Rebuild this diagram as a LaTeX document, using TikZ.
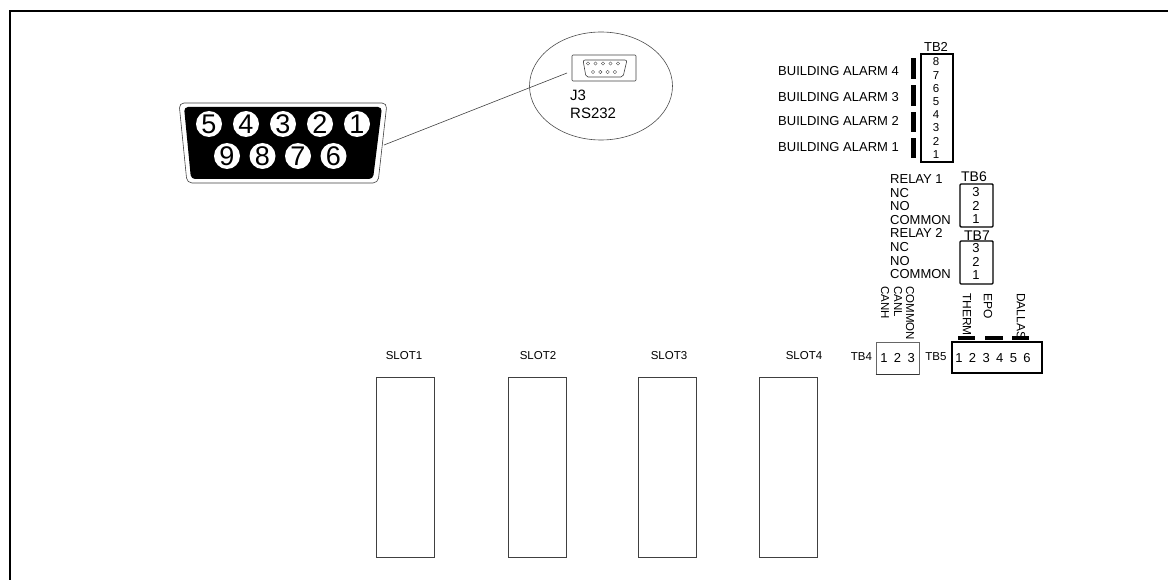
\documentclass[tikz,border=0pt]{standalone}
\usepackage{fontspec}
\setmainfont{Liberation Sans}
\usetikzlibrary{shapes.geometric, positioning}

\begin{document}
\begin{tikzpicture}[x=1pt, y=-1pt,
    frameline/.style={line width=2pt, black},
    thinline/.style={line width=0.6pt, black!75},
    pinhole/.style={circle, fill=white, inner sep=0pt, minimum size=26pt, font=\fontsize{27}{27}\selectfont},
    minipin/.style={circle, draw=black!70, line width=0.4pt, inner sep=0pt, minimum size=3.4pt},
    tbox/.style={rectangle, draw, line width=1.4pt, inner sep=0pt},
    slotbox/.style={rectangle, draw=black!75, line width=0.8pt, inner sep=0pt, minimum width=58pt, minimum height=180pt},
    bar/.style={rectangle, fill=black, inner sep=0pt},
    lbl/.style={inner sep=0pt, font=\fontsize{13}{13}\selectfont},
    lblw/.style={lbl, anchor=west},
    lbldown/.style={inner sep=0pt, rotate=-90, anchor=west, font=\fontsize{11.5}{11.5}\selectfont},
    slotlbl/.style={inner sep=0pt, font=\fontsize{11.5}{11.5}\selectfont},
    numsmall/.style={inner sep=0pt, node distance=13.2pt, font=\fontsize{11.5}{11.5}\selectfont},
    num/.style={inner sep=0pt, node distance=13.6pt, font=\fontsize{13}{13}\selectfont}]

    \useasboundingbox (0,0) rectangle (1168,580);
    \draw [frameline] (1168,11) -- (10,11) -- (10,580);

    % DB9 connector
    \draw [thinline, rounded corners=5pt] (179,103) -- (387,103) -- (378,183) -- (187,183) -- cycle;
    \fill [black, rounded corners=4pt] (184,107) -- (382,107) -- (373,179) -- (191,179) -- cycle;
    \node [pinhole] (pin5) at (209,124) {5};
    \node [pinhole, right of=pin5, node distance=37pt] (pin4) {4};
    \node [pinhole, right of=pin4, node distance=37pt] (pin3) {3};
    \node [pinhole, right of=pin3, node distance=37pt] (pin2) {2};
    \node [pinhole, right of=pin2, node distance=37pt] (pin1) {1};
    \node [pinhole] (pin9) at (227,156) {9};
    \node [pinhole, right of=pin9, node distance=35.5pt] (pin8) {8};
    \node [pinhole, right of=pin8, node distance=35.5pt] (pin7) {7};
    \node [pinhole, right of=pin7, node distance=35.5pt] (pin6) {6};

    % J3 detail
    \node [ellipse, draw=black!70, line width=0.6pt, inner sep=0pt, minimum width=143pt, minimum height=108pt] (detail) at (601,86) {};
    \node [rectangle, draw=black!75, line width=0.6pt, rounded corners=1pt, inner sep=0pt, minimum width=64pt, minimum height=26pt] (j3box) at (604,68) {};
    \draw [thinline, rounded corners=2pt] (583,60) -- (627,60) -- (623,77) -- (586,77) -- cycle;
    \node [minipin] (m1) at (588,63.5) {};
    \node [minipin, right of=m1, node distance=7.5pt] (m2) {};
    \node [minipin, right of=m2, node distance=7.5pt] (m3) {};
    \node [minipin, right of=m3, node distance=7.5pt] (m4) {};
    \node [minipin, right of=m4, node distance=7.5pt] (m5) {};
    \node [minipin] (m6) at (593,72) {};
    \node [minipin, right of=m6, node distance=7.3pt] (m7) {};
    \node [minipin, right of=m7, node distance=7.3pt] (m8) {};
    \node [minipin, right of=m8, node distance=7.3pt] (m9) {};
    \node [lblw, font=\fontsize{15}{15}\selectfont] (j3) at (570,95) {J3};
    \node [lblw, font=\fontsize{15}{15}\selectfont] (rs232) at (570,113) {RS232};

    \coordinate (dbedge) at (384,145);
    \coordinate (j3end) at (567,73);
    \draw [thinline] (dbedge) -- (j3end);

    % TB2
    \node [tbox, minimum width=32pt, minimum height=108pt] (tb2) at (937,108) {};
    \node [lbl] (tb2lbl) at (936,47) {TB2};
    \node [numsmall] (a8) at (936,62) {8};
    \node [numsmall, below of=a8] (a7) {7};
    \node [numsmall, below of=a7] (a6) {6};
    \node [numsmall, below of=a6] (a5) {5};
    \node [numsmall, below of=a5] (a4) {4};
    \node [numsmall, below of=a4] (a3) {3};
    \node [numsmall, below of=a3] (a2) {2};
    \node [numsmall, below of=a2] (a1) {1};
    \node [bar, minimum width=5pt, minimum height=21pt] (bar4) at (913.5,68.5) {};
    \node [bar, minimum width=5pt, minimum height=21pt] (bar3) at (913.5,95.5) {};
    \node [bar, minimum width=5pt, minimum height=20pt] (bar2) at (913.5,122) {};
    \node [bar, minimum width=5pt, minimum height=20pt] (bar1) at (913.5,148) {};
    \node [lblw] (alarm4) at (778,71) {BUILDING ALARM 4};
    \node [lblw] (alarm3) at (778,97) {BUILDING ALARM 3};
    \node [lblw] (alarm2) at (778,121) {BUILDING ALARM 2};
    \node [lblw] (alarm1) at (778,147) {BUILDING ALARM 1};

    % TB6 and TB7
    \node [tbox, rounded corners=1pt, minimum width=33pt, minimum height=43pt] (tb6) at (976.5,205.5) {};
    \node [lbl, font=\fontsize{14}{14}\selectfont] (tb6lbl) at (974,176.5) {TB6};
    \node [num] (b3) at (976,192) {3};
    \node [num, below of=b3] (b2) {2};
    \node [num, below of=b2] (b1) {1};
    \node [tbox, rounded corners=1pt, minimum width=33pt, minimum height=43pt] (tb7) at (976.5,262.5) {};
    \node [lbl, font=\fontsize{14}{14}\selectfont] (tb7lbl) at (977,236) {TB7};
    \node [num] (c3) at (976,248) {3};
    \node [num, below of=c3] (c2) {2};
    \node [num, below of=c2] (c1) {1};
    \node [lblw] (relay1) at (890,179) {RELAY 1};
    \node [lblw] (nc1) at (890,193) {NC};
    \node [lblw] (no1) at (890,206) {NO};
    \node [lblw] (com1) at (890,220) {COMMON};
    \node [lblw] (relay2) at (890,233) {RELAY 2};
    \node [lblw] (nc2) at (890,247) {NC};
    \node [lblw] (no2) at (890,261) {NO};
    \node [lblw] (com2) at (890,274) {COMMON};

    % TB4
    \node [rectangle, draw=black!60, line width=0.6pt, inner sep=0pt, minimum width=43pt, minimum height=32pt] (tb4) at (897.5,358) {};
    \draw [line width=1.3pt, black!80] (tb4.south west) -- (tb4.south east);
    \node [lbl, font=\fontsize{11.5}{11.5}\selectfont] (tb4lbl) at (861.5,357) {TB4};
    \node [num] (d1) at (884,358) {1};
    \node [num, right of=d1] (d2) {2};
    \node [num, right of=d2] (d3) {3};
    \node [lbldown] (canh) at (885,286) {CANH};
    \node [lbldown] (canl) at (898,286) {CANL};
    \node [lbldown] (common) at (910,286) {COMMON};

    % TB5
    \node [tbox, minimum width=90pt, minimum height=31pt] (tb5) at (997,357.5) {};
    \node [lbl, font=\fontsize{11.5}{11.5}\selectfont] (tb5lbl) at (936,357) {TB5};
    \node [num] (e1) at (959,358) {1};
    \node [num, right of=e1] (e2) {2};
    \node [num, right of=e2] (e3) {3};
    \node [num, right of=e3] (e4) {4};
    \node [num, right of=e4] (e5) {5};
    \node [num, right of=e5] (e6) {6};
    \node [bar, minimum width=17pt, minimum height=4pt] (therm) at (966.5,338) {};
    \node [bar, minimum width=18pt, minimum height=4pt] (epo) at (994,338) {};
    \node [bar, minimum width=17pt, minimum height=4pt] (dallas) at (1020.5,338) {};
    \node [lbldown, font=\fontsize{12}{12}\selectfont] (thermlbl) at (967,293) {THERM};
    \node [lbldown, font=\fontsize{12}{12}\selectfont] (epolbl) at (988,293) {EPO};
    \node [lbldown, font=\fontsize{12}{12}\selectfont] (dallaslbl) at (1021,293) {DALLAS};

    % slots
    \node [slotbox] (slot1) at (405,467) {};
    \node [slotbox] (slot2) at (537.5,467) {};
    \node [slotbox] (slot3) at (667.5,467) {};
    \node [slotbox] (slot4) at (788.5,467) {};
    \node [slotlbl] (slot1lbl) at (404,356) {SLOT1};
    \node [slotlbl] (slot2lbl) at (538,356) {SLOT2};
    \node [slotlbl] (slot3lbl) at (669,356) {SLOT3};
    \node [slotlbl] (slot4lbl) at (804,356) {SLOT4};
\end{tikzpicture}
\end{document}
